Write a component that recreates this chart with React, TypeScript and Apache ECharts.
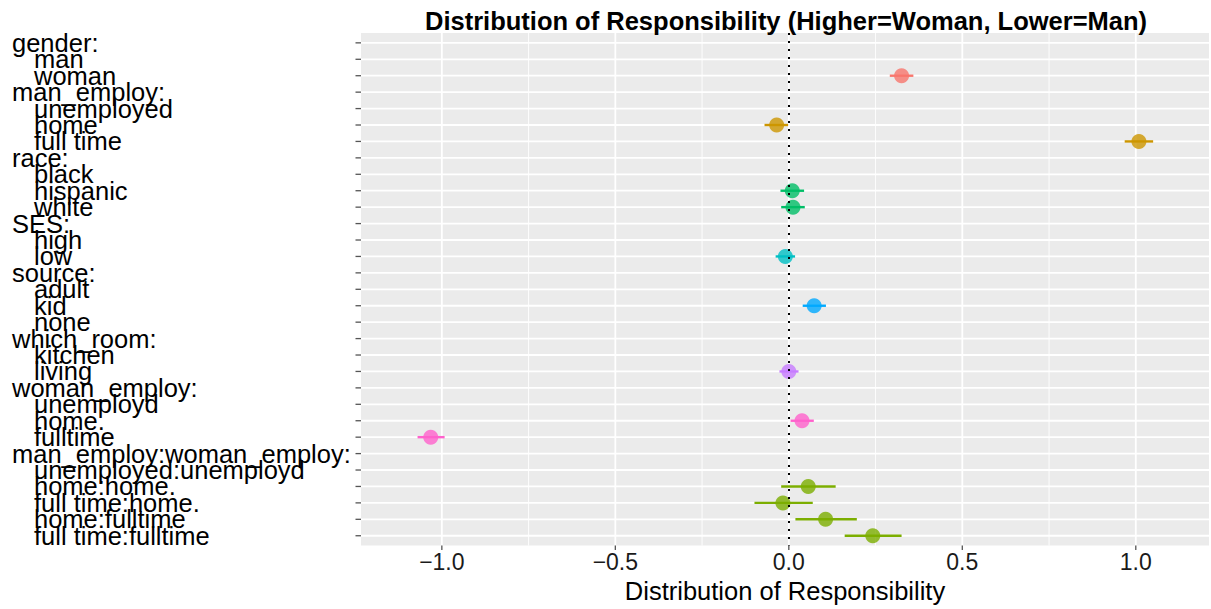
import React, { useEffect, useRef } from "react";
import * as echarts from "echarts";

const terms = [
  "gender:", "man", "woman",
  "man_employ:", "unemployed", "home", "full time",
  "race:", "black", "hispanic", "white",
  "SES:", "high", "low",
  "source:", "adult", "kid", "none",
  "which_room:", "kitchen", "living",
  "woman_employ:", "unemployd", "home.", "fulltime",
  "man_employ:woman_employ:", "unemployed:unemployd", "home:home.", "full time:home.", "home:fulltime", "full time:fulltime",
];

const termGroup = [
  0, 0, 0,
  1, 1, 1, 1,
  2, 2, 2, 2,
  3, 3, 3,
  4, 4, 4, 4,
  5, 5, 5,
  6, 6, 6, 6,
  7, 7, 7, 7, 7, 7,
];

const groupColors = ["#F8766D", "#CD9600", "#00BE67", "#00BFC4", "#00A9FF", "#C77CFF", "#FF61CC", "#7CAE00"];

const estimate = [
  null, null, 0.325,
  null, null, -0.035, 1.009,
  null, null, 0.010, 0.012,
  null, null, -0.010,
  null, null, 0.073, null,
  null, null, 0.000,
  null, null, 0.038, -1.032,
  null, null, 0.056, -0.017, 0.106, 0.242,
];

const lower = [
  null, null, 0.291,
  null, null, -0.070, 0.968,
  null, null, -0.024, -0.022,
  null, null, -0.038,
  null, null, 0.040, null,
  null, null, -0.027,
  null, null, 0.005, -1.070,
  null, null, -0.022, -0.099, 0.019, 0.161,
];

const upper = [
  null, null, 0.359,
  null, null, -0.002, 1.050,
  null, null, 0.044, 0.046,
  null, null, 0.018,
  null, null, 0.107, null,
  null, null, 0.028,
  null, null, 0.072, -0.992,
  null, null, 0.135, 0.069, 0.196, 0.325,
];

const xMajorBreaks = [-1, -0.5, 0, 0.5, 1];
const xMinorBreaks = [-0.75, -0.25, 0.25, 0.75];

const X_MIN = -1.233;
const X_MAX = 1.211;
const Y_MIN = -0.6;
const Y_MAX = terms.length - 1 + 0.6;

const FONT = "Liberation Sans";
const LABEL_SIZE = 25.5;
const TICK_COLOR = "#555555";

export default function App() {
  const ref = useRef<HTMLDivElement>(null);

  useEffect(() => {
    if (!ref.current) return;
    const chart = echarts.init(ref.current, undefined, { renderer: "svg" });

    const rowIdx = terms.map((_, i) => i);

    const errData: number[][] = [];
    const ptData: any[] = [];
    estimate.forEach((v, i) => {
      if (v === null) return;
      errData.push([lower[i] as number, upper[i] as number, i, termGroup[i]]);
      ptData.push({ value: [v, i], itemStyle: { color: groupColors[termGroup[i]] } });
    });

    const option: any = {
      animation: false,
      title: {
        text: "Distribution of Responsibility (Higher=Woman, Lower=Man)",
        left: 786,
        top: 8,
        textAlign: "center",
        padding: 0,
        textStyle: { fontFamily: FONT, fontSize: 25.5, fontWeight: "bold", color: "#000" },
      },
      grid: {
        left: 361,
        right: 2,
        top: 33,
        bottom: 61,
        show: true,
        backgroundColor: "#EBEBEB",
        borderWidth: 0,
        containLabel: false,
      },
      xAxis: {
        type: "value",
        min: X_MIN,
        max: X_MAX,
        name: "Distribution of Responsibility",
        nameLocation: "middle",
        nameGap: 30.5,
        nameTextStyle: { fontFamily: FONT, fontSize: 25.5, color: "#000" },
        axisLine: { show: false },
        axisTick: { show: false },
        axisLabel: {
          customValues: xMajorBreaks,
          showMinLabel: true,
          showMaxLabel: true,
          margin: 4.5,
          fontFamily: FONT,
          fontSize: 23,
          color: "#1a1a1a",
          formatter: (v: number) => (v < 0 ? "\u2212" : "") + Math.abs(v).toFixed(1),
        },
        splitLine: { show: false },
      },
      yAxis: {
        type: "value",
        inverse: true,
        min: Y_MIN,
        max: Y_MAX,
        axisLine: { show: false },
        axisTick: { show: false },
        axisLabel: {
          customValues: [Y_MIN, ...rowIdx, Y_MAX],
          showMinLabel: false,
          showMaxLabel: false,
          hideOverlap: false,
          margin: 349,
          align: "left",
          fontFamily: FONT,
          fontSize: LABEL_SIZE,
          color: "#000",
          formatter: (v: number) => {
            if (Math.abs(v - Math.round(v)) > 1e-6) return "";
            const t = terms[Math.round(v)];
            if (t === undefined) return "";
            return t.endsWith(":") ? `{h|${t}}` : `{i|${t}}`;
          },
          rich: {
            h: { fontFamily: FONT, fontSize: LABEL_SIZE, color: "#000" },
            i: { fontFamily: FONT, fontSize: LABEL_SIZE, color: "#000", padding: [0, 0, 0, 22] },
          },
        },
        splitLine: { show: false },
      },
      series: [
        {
          type: "custom",
          name: "gridH",
          silent: true,
          clip: false,
          z: 1,
          data: rowIdx.map((i) => [X_MIN, i]),
          renderItem: (params: any, api: any) => {
            const y = api.value(1);
            const p1 = api.coord([X_MIN, y]);
            const p2 = api.coord([X_MAX, y]);
            return {
              type: "group",
              children: [
                {
                  type: "line",
                  shape: { x1: p1[0], y1: p1[1], x2: p2[0], y2: p2[1] },
                  style: { stroke: "#FFFFFF", lineWidth: 1.8 },
                },
                {
                  type: "line",
                  shape: { x1: p1[0] - 5.5, y1: p1[1], x2: p1[0], y2: p1[1] },
                  style: { stroke: TICK_COLOR, lineWidth: 1.3 },
                },
              ],
            };
          },
        },
        {
          type: "custom",
          name: "gridMinor",
          silent: true,
          clip: false,
          z: 1,
          data: xMinorBreaks.map((x) => [x, 0]),
          renderItem: (params: any, api: any) => {
            const x = api.value(0);
            const p1 = api.coord([x, Y_MIN]);
            const p2 = api.coord([x, Y_MAX]);
            return {
              type: "line",
              shape: { x1: p1[0], y1: p1[1], x2: p2[0], y2: p2[1] },
              style: { stroke: "#FFFFFF", lineWidth: 0.9 },
            };
          },
        },
        {
          type: "custom",
          name: "gridMajor",
          silent: true,
          clip: false,
          z: 1,
          data: xMajorBreaks.map((x) => [x, 0]),
          renderItem: (params: any, api: any) => {
            const x = api.value(0);
            const p1 = api.coord([x, Y_MIN]);
            const p2 = api.coord([x, Y_MAX]);
            return {
              type: "group",
              children: [
                {
                  type: "line",
                  shape: { x1: p1[0], y1: p1[1], x2: p2[0], y2: p2[1] },
                  style: { stroke: "#FFFFFF", lineWidth: 1.8 },
                },
                {
                  type: "line",
                  shape: { x1: p2[0], y1: p2[1], x2: p2[0], y2: p2[1] + 4.5 },
                  style: { stroke: TICK_COLOR, lineWidth: 1.3 },
                },
              ],
            };
          },
        },
        {
          type: "custom",
          name: "errorbars",
          silent: true,
          z: 3,
          encode: { x: [0, 1], y: 2 },
          data: errData,
          renderItem: (params: any, api: any) => {
            const i = api.value(2);
            const p1 = api.coord([api.value(0), i]);
            const p2 = api.coord([api.value(1), i]);
            return {
              type: "line",
              shape: { x1: p1[0], y1: p1[1], x2: p2[0], y2: p2[1] },
              style: { stroke: groupColors[api.value(3)], lineWidth: 2.4 },
            };
          },
        },
        {
          type: "scatter",
          name: "estimates",
          z: 4,
          symbol: "circle",
          symbolSize: 15,
          data: ptData,
          markLine: {
            silent: true,
            symbol: ["none", "none"],
            label: { show: false },
            lineStyle: { color: "#000", width: 2, type: [2, 6] },
            data: [{ xAxis: 0 }],
          },
        },
      ],
    };

    chart.setOption(option);
    return () => chart.dispose();
  }, []);

  return (
    <div
      ref={ref}
      style={{ position: "absolute", left: 0, top: 0, width: 1211, height: 609, background: "#fff" }}
    />
  );
}
